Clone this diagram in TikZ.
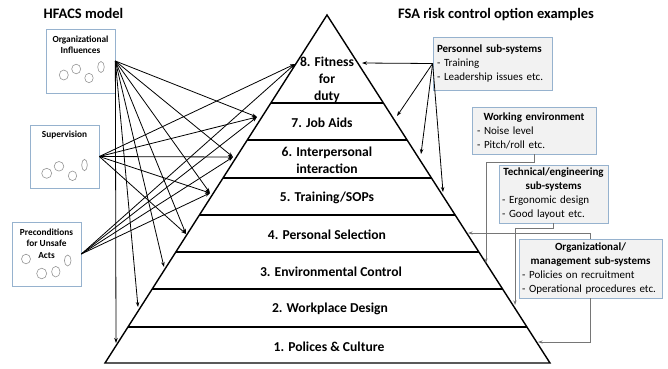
\documentclass[tikz,border=0pt]{standalone}
\usepackage{fontspec}
\setmainfont{Carlito}
\usetikzlibrary{arrows.meta}
\definecolor{boxblue}{RGB}{150,178,206}
\definecolor{boxgray}{RGB}{242,242,242}
\definecolor{bubblegray}{RGB}{150,150,150}
\definecolor{linkgray}{RGB}{118,118,118}

\begin{document}
\begin{tikzpicture}[x=1pt,y=-1pt,
    tier/.style={font=\fontsize{13.6}{17}\selectfont\bfseries,align=center,inner sep=0pt},
    headtxt/.style={font=\fontsize{14.5}{17}\selectfont\bfseries,inner sep=0pt,anchor=base},
    hfacs/.style={draw=boxblue,fill=white,line width=0.7pt,minimum width=69pt,minimum height=64pt,inner sep=0pt},
    hname/.style={font=\fontsize{9.3}{11.5}\selectfont\bfseries,align=center,inner sep=0pt},
    bubble/.style={draw=bubblegray,fill=white,line width=0.6pt},
    fsa/.style={draw=boxblue,fill=boxgray,line width=0.7pt,font=\fontsize{11}{14}\selectfont,align=left,inner xsep=5pt,inner ysep=0pt}]
  \useasboundingbox (0,0) rectangle (668,368);

  % the pyramid
  \draw[line width=1.4pt] (327,15) -- (105,363) -- (550,363) -- cycle;
  \draw[line width=1.6pt] (270.9,103) -- (383.4,103);
  \draw[line width=1.6pt] (247.3,140) -- (407.1,140);
  \draw[line width=1.6pt] (223.0,178) -- (431.4,178);
  \draw[line width=1.6pt] (199.4,215) -- (455.2,215);
  \draw[line width=1.6pt] (175.8,252) -- (478.9,252);
  \draw[line width=1.6pt] (152.2,289) -- (502.6,289);
  \draw[line width=1.6pt] (128.0,327) -- (526.9,327);

  \node[tier] (t8) at (327,80) {8. Fitness\\for\\duty};
  \node[tier] (t7) at (322,123) {7. Job Aids};
  \node[tier] (t6) at (327,160) {6. Interpersonal\\interaction};
  \node[tier] (t5) at (327,198) {5. Training/SOPs};
  \node[tier] (t4) at (327,235) {4. Personal Selection};
  \node[tier] (t3) at (331,272) {3. Environmental Control};
  \node[tier] (t2) at (330,309) {2. Workplace Design};
  \node[tier] (t1) at (329,347) {1. Polices \& Culture};

  \node[headtxt] (hfacstitle) at (83.5,18.5) {HFACS model};
  \node[headtxt] (fsatitle) at (496,18.5) {FSA risk control option examples};

  % HFACS boxes
  \node[hfacs] (org) at (80.5,61) {};
  \node[hfacs,minimum height=63pt] (sup) at (64.5,156.5) {};
  \node[hfacs] (pre) at (46.5,254) {};
  \node[hname] (orgname) at (80.5,45) {Organizational\\Influences};
  \node[hname] (supname) at (64.5,135) {Supervision};
  \node[hname] (prename) at (46.5,243.5) {Preconditions\\for Unsafe\\Acts};

  \draw[bubble] (63.8,75) ellipse (4.5pt and 5pt);
  \draw[bubble] (76.2,69) ellipse (4.5pt and 4.8pt);
  \draw[bubble] (89,78) ellipse (4.2pt and 4.7pt);
  \draw[bubble] (101,67) ellipse (3.3pt and 5.5pt);
  \draw[bubble] (46.7,173.3) ellipse (5pt and 5pt);
  \draw[bubble] (59,166.3) ellipse (4.8pt and 4.8pt);
  \draw[bubble] (72.5,175.8) ellipse (4.2pt and 4.8pt);
  \draw[bubble] (84.5,165) ellipse (2.8pt and 5.7pt);
  \draw[bubble] (26,259) ellipse (4.5pt and 4.8pt);
  \draw[bubble] (41.7,273.5) ellipse (5pt and 5.3pt);
  \draw[bubble] (55.8,271.7) ellipse (4.2pt and 5.3pt);
  \draw[bubble] (67.7,260.5) ellipse (3.3pt and 5.5pt);

  % FSA boxes
  \node[fsa,inner xsep=4pt,text width=111pt,minimum height=53pt] (pers) at (492.5,63.5)
    {\textbf{Personnel sub-systems}\\- Training\\- Leadership issues etc.};
  \node[fsa,text width=114pt,minimum height=47pt] (work) at (534,130.5)
    {{\centering\bfseries Working environment\par}- Noise level\\- Pitch/roll etc.};
  \node[fsa,inner xsep=3pt,text width=103pt,minimum height=58pt] (tech) at (553.5,194)
    {{\centering\bfseries Technical/engineering\\sub-systems\par}- Ergonomic design\\- Good layout etc.};
  \node[fsa,inner xsep=3pt,text width=137pt,minimum height=59pt] (orgm) at (590.5,268.5)
    {{\centering\bfseries Organizational/\\management sub-systems\par}- Policies on recruitment\\- Operational procedures etc.};

  % where the arrows meet the levels
  \coordinate (l8) at (295,64);
  \coordinate (l7) at (257,117);
  \coordinate (l6) at (233,157);
  \coordinate (l5) at (210,193);
  \coordinate (l4) at (186,234);
  \coordinate (l3) at (164,267);
  \coordinate (l2) at (138,307);
  \coordinate (l1) at (116,343);
  \coordinate (r8) at (362,63);
  \coordinate (r7) at (397,116);
  \coordinate (r6) at (421,154);
  \coordinate (r5) at (443,192);
  \coordinate (w3) at (486,263);
  \coordinate (e2) at (515,305);
  \coordinate (o4) at (468,233);
  \coordinate (o1) at (538,342);

  \begin{scope}[line width=0.8pt,-{Stealth[length=5pt,width=3.5pt]}]
    \draw (org.east) to (l7);
    \draw (org.east) to (l6);
    \draw (org.east) to (l5);
    \draw (org.east) to (l4);
    \draw (org.east) to (l3);
    \draw (org.east) to (l2);
    \draw (org.east) to (l1);
    \draw (sup.east) to (l8);
    \draw (sup.east) to (l7);
    \draw (sup.east) to (l6);
    \draw (sup.east) to (l5);
    \draw (sup.east) to (l4);
    \draw (pre.east) to (l8);
    \draw (pre.east) to (l7);
    \draw (pre.east) to (l6);
    \draw (pre.east) to (l5);
    \draw (pers.west) to (r8);
    \draw (pers.west) to (r7);
    \draw (pers.west) to (r6);
    \draw (pers.west) to (r5);
  \end{scope}
  \begin{scope}[draw=linkgray,line width=0.7pt,-{Stealth[length=4.5pt,width=3pt]}]
    \draw (work.south) -- ++(0,8) -| (w3);
    \draw (tech.south) -- ++(0,5) -| (e2);
    \draw (orgm.north) |- (o4);
    \draw (orgm.south) |- (o1);
  \end{scope}
\end{tikzpicture}
\end{document}
